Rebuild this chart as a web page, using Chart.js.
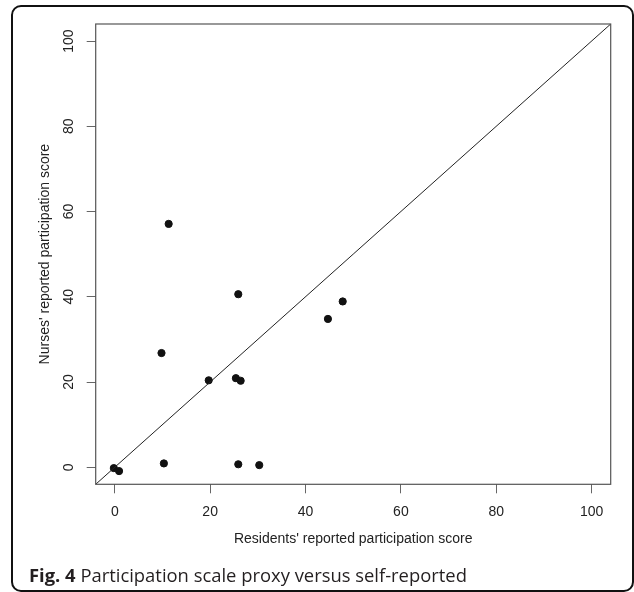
<!DOCTYPE html>
<html>
<head>
<meta charset="utf-8">
<script src="https://cdn.jsdelivr.net/npm/chart.js@4.4.1/dist/chart.umd.min.js"></script>
<style>
    html, body { margin: 0; padding: 0; background: #fff; }
    body { width: 634px; height: 592px; position: relative; overflow: hidden; }
    #frame {
        position: absolute; left: 11px; top: 5px; width: 619px; height: 583px;
        border: 2px solid #111; border-radius: 10px;
    }
    #wrap { position: absolute; left: 0; top: 0; width: 634px; height: 592px; }
    #caption {
        position: absolute; left: 29px; top: 563px;
        font-family: "Open Sans", sans-serif; font-size: 18.4px; color: #231f20;
        white-space: nowrap; line-height: 24px;
    }
    #caption b { font-weight: 700; }
</style>
</head>
<body>
<div id="frame"></div>
<div id="wrap"><canvas id="chart_Participation"></canvas></div>
<div id="caption"><b>Fig. 4</b> Participation scale proxy versus self-reported</div>
<script>
// ****************************************************************** //
// chart_Participation --- nurses' proxy vs residents' self-report    //
// ****************************************************************** //

const residentScores = [-0.2, 0.9, 10.3, 25.9, 30.3, 9.8, 19.7, 25.4, 26.4, 25.9, 44.7, 47.8, 11.3];
const nurseScores = [-0.2, -0.9, 0.9, 0.7, 0.5, 26.8, 20.4, 20.9, 20.3, 40.6, 34.8, 38.9, 57.1];
const tickValues = [0, 20, 40, 60, 80, 100];
const axisRange = [-4, 104]; // R style 4% extension of 0..100

const points = residentScores.map((x, i) => ({ x: x, y: nurseScores[i] }));
const diagonal = axisRange.map((v) => ({ x: v, y: v })); // y = x line

// box around the plotting region, like R's box()
const plotBox = {
    id: "plotBox",
    afterDatasetsDraw(chart) {
        const a = chart.chartArea;
        const c = chart.ctx;
        c.save();
        c.strokeStyle = "#555";
        c.lineWidth = 1.2;
        c.strokeRect(a.left, a.top, a.right - a.left, a.bottom - a.top);
        c.restore();
    },
};

const ctx = document.getElementById("chart_Participation").getContext("2d");
const chart_Participation = new Chart(ctx, {
    type: "scatter",
    data: {
        datasets: [
            {
                label: "y = x",
                data: diagonal,
                showLine: true,
                borderColor: "#222",
                borderWidth: 1,
                pointRadius: 0,
                fill: false,
            },
            {
                label: "Participation",
                data: points,
                backgroundColor: "#111",
                borderColor: "#111",
                pointRadius: 3.6,
                pointHoverRadius: 3.6,
            },
        ],
    },
    options: {
        responsive: true,
        maintainAspectRatio: false,
        animation: false,
        layout: {
            padding: { left: 30, top: 24, right: 23.3, bottom: 37.7 },
        },
        plugins: {
            legend: { display: false },
            tooltip: { enabled: false },
        },
        scales: {
            x: {
                type: "linear",
                min: axisRange[0],
                max: axisRange[1],
                afterBuildTicks: (scale) => {
                    scale.ticks = tickValues.map((v) => ({ value: v }));
                },
                afterFit: (scale) => {
                    scale.height = 70;
                },
                border: { display: false },
                grid: {
                    drawOnChartArea: false,
                    tickLength: 9,
                    color: "#666",
                },
                ticks: {
                    padding: 10,
                    color: "#222",
                    font: { family: "Liberation Sans", size: 14 },
                },
                title: {
                    display: true,
                    text: "Residents' reported participation score",
                    color: "#222",
                    padding: { top: 0, bottom: 6.5 },
                    font: { family: "Liberation Sans", size: 14 },
                },
            },
            y: {
                type: "linear",
                min: axisRange[0],
                max: axisRange[1],
                afterBuildTicks: (scale) => {
                    scale.ticks = tickValues.map((v) => ({ value: v }));
                },
                afterFit: (scale) => {
                    scale.width = 65.7;
                },
                border: { display: false },
                grid: {
                    drawOnChartArea: false,
                    tickLength: 9,
                    color: "#666",
                },
                ticks: {
                    padding: 6,
                    minRotation: 90,
                    maxRotation: 90,
                    crossAlign: "center",
                    color: "#222",
                    font: { family: "Liberation Sans", size: 14 },
                },
                title: {
                    display: true,
                    text: "Nurses' reported participation score",
                    color: "#222",
                    padding: { top: 7, bottom: 0 },
                    font: { family: "Liberation Sans", size: 14 },
                },
            },
        },
    },
    plugins: [plotBox],
});
</script>
</body>
</html>
